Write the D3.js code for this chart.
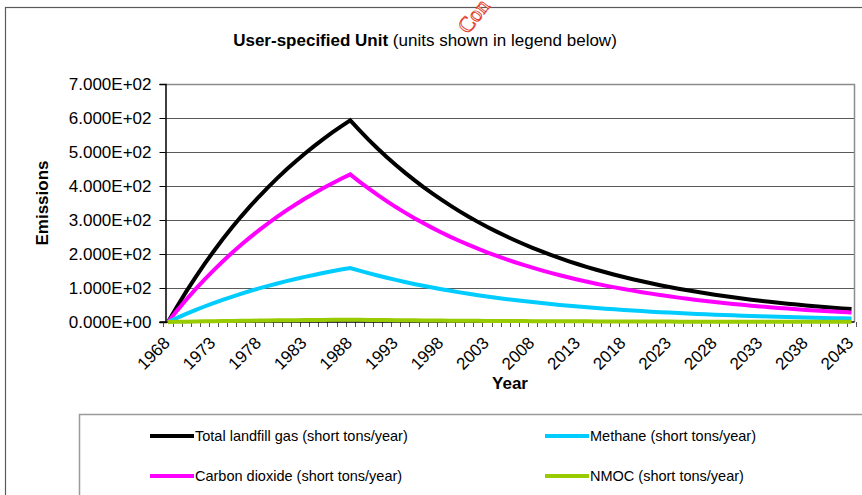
<!DOCTYPE html>
<html>
<head>
<meta charset="utf-8">
<script src="https://cdn.jsdelivr.net/npm/d3@7"></script>
<style>
  body { margin: 0; background: #fff; }
  svg { display: block; font-family: "Liberation Sans", Arial, sans-serif; }
</style>
</head>
<body>
<div id="chart"></div>
<script>
// Data (short tons/year)
var years = d3.range(1968, 2044);
var tickYears = [1968, 1973, 1978, 1983, 1988, 1993, 1998, 2003, 2008, 2013, 2018, 2023, 2028, 2033, 2038, 2043];
var yTicks = [0, 100, 200, 300, 400, 500, 600, 700];

var totalGas = [0, 45.8, 89.3, 130.7, 170.1, 207.5, 243.1, 277.0, 309.3, 339.9,
  369.1, 396.9, 423.3, 448.4, 472.3, 495.0, 516.6, 537.2, 556.7, 575.3,
  593.0, 564.1, 536.6, 510.4, 485.5, 461.8, 439.3, 417.9, 397.5, 378.1,
  359.7, 342.1, 325.5, 309.6, 294.5, 280.1, 266.5, 253.5, 241.1, 229.3,
  218.2, 207.5, 197.4, 187.8, 178.6, 169.9, 161.6, 153.7, 146.2, 139.1,
  132.3, 125.9, 119.7, 113.9, 108.3, 103.1, 98.0, 93.2, 88.7, 84.4,
  80.3, 76.3, 72.6, 69.1, 65.7, 62.5, 59.5, 56.6, 53.8, 51.2,
  48.7, 46.3, 44.0, 41.9, 39.9, 37.9];

var methane = [0, 12.3, 23.9, 35.0, 45.6, 55.6, 65.2, 74.2, 82.9, 91.1,
  98.9, 106.4, 113.4, 120.2, 126.6, 132.7, 138.4, 144.0, 149.2, 154.2,
  158.9, 151.2, 143.8, 136.8, 130.1, 123.8, 117.7, 112.0, 106.5, 101.3,
  96.4, 91.7, 87.2, 83.0, 78.9, 75.1, 71.4, 67.9, 64.6, 61.5,
  58.5, 55.6, 52.9, 50.3, 47.9, 45.5, 43.3, 41.2, 39.2, 37.3,
  35.5, 33.7, 32.1, 30.5, 29.0, 27.6, 26.3, 25.0, 23.8, 22.6,
  21.5, 20.4, 19.5, 18.5, 17.6, 16.8, 15.9, 15.2, 14.4, 13.7,
  13.1, 12.4, 11.8, 11.2, 10.7, 10.2];

var carbonDioxide = [0, 33.5, 65.4, 95.7, 124.5, 151.9, 178.0, 202.8, 226.4, 248.8,
  270.2, 290.5, 309.9, 328.2, 345.7, 362.3, 378.2, 393.2, 407.5, 421.1,
  434.1, 412.9, 392.8, 373.6, 355.4, 338.0, 321.6, 305.9, 291.0, 276.8,
  263.3, 250.4, 238.3, 226.6, 215.6, 205.0, 195.1, 185.6, 176.5, 167.8,
  159.7, 151.9, 144.5, 137.5, 130.7, 124.4, 118.3, 112.5, 107.0, 101.8,
  96.8, 92.2, 87.6, 83.4, 79.3, 75.5, 71.7, 68.2, 64.9, 61.8,
  58.8, 55.9, 53.1, 50.6, 48.1, 45.8, 43.6, 41.4, 39.4, 37.5,
  35.6, 33.9, 32.2, 30.7, 29.2, 27.7];

var nmoc = [0, 0.5, 1.0, 1.5, 2.0, 2.4, 2.8, 3.2, 3.6, 3.9,
  4.2, 4.6, 4.9, 5.2, 5.4, 5.7, 5.9, 6.2, 6.4, 6.6,
  6.8, 6.5, 6.2, 5.9, 5.6, 5.3, 5.1, 4.8, 4.6, 4.3,
  4.1, 3.9, 3.7, 3.6, 3.4, 3.2, 3.1, 2.9, 2.8, 2.6,
  2.5, 2.4, 2.3, 2.2, 2.1, 2.0, 1.9, 1.8, 1.7, 1.6,
  1.5, 1.4, 1.4, 1.3, 1.2, 1.2, 1.1, 1.1, 1.0, 1.0,
  0.9, 0.9, 0.8, 0.8, 0.7, 0.7, 0.7, 0.6, 0.6, 0.6,
  0.5, 0.5, 0.5, 0.5, 0.5, 0.4];

var seriesNames = ["Total landfill gas (short tons/year)", "Methane (short tons/year)",
  "Carbon dioxide (short tons/year)", "NMOC (short tons/year)"];
var seriesValues = [totalGas, methane, carbonDioxide, nmoc];
var seriesColors = ["#000000", "#00CCFF", "#FF00FF", "#99CC00"];
var drawOrder = [0, 2, 1, 3];

var chart = {
  width: 862,
  height: 495,
  plot: { left: 165.5, right: 854, top: 84, bottom: 322 },

  setup: function() {
    this.svg = d3.select("#chart").append("svg")
      .attr("width", this.width)
      .attr("height", this.height);

    // outer chart border (runs off the right/bottom of the picture)
    this.svg.append("rect")
      .attr("x", 5.5).attr("y", 7.5)
      .attr("width", 900).attr("height", 520)
      .attr("fill", "#fff")
      .attr("stroke", "#5a5a5a")
      .attr("stroke-width", 1.2);

    this.x = d3.scalePoint()
      .domain(years)
      .range([this.plot.left, this.plot.right])
      .padding(0.27);
    this.y = d3.scaleLinear()
      .domain([0, 700])
      .range([this.plot.bottom, this.plot.top]);
  },

  drawAxes: function() {
    var self = this, p = this.plot, svg = this.svg;

    // gridlines
    svg.append("g").selectAll("line")
      .data(yTicks.filter(d => d > 0 && d < 700))
      .enter().append("line")
      .attr("x1", p.left).attr("x2", p.right)
      .attr("y1", d => Math.round(self.y(d)) + 0.5)
      .attr("y2", d => Math.round(self.y(d)) + 0.5)
      .attr("stroke", "#5a5a5a").attr("stroke-width", 1);

    // plot area frame (top + right in grey)
    svg.append("path")
      .attr("d", "M" + p.left + "," + (p.top + 0.5) + "H" + (p.right + 0.5) + "V" + p.bottom)
      .attr("fill", "none").attr("stroke", "#8c8c8c").attr("stroke-width", 1.5);

    // y axis
    var yAxis = d3.axisLeft(this.y)
      .tickValues(yTicks)
      .tickSize(6)
      .tickFormat(d => d3.format(".3e")(d).replace(/e([+-])(\d)$/, "E$10$2").replace("e", "E"));
    var gy = svg.append("g")
      .attr("transform", "translate(" + p.left + ",0)")
      .call(yAxis);
    gy.select(".domain").attr("stroke", "#000").attr("stroke-width", 1.5);
    gy.selectAll(".tick line").attr("stroke", "#000");
    gy.selectAll(".tick text")
      .attr("x", -14)
      .style("font-size", "17px")
      .style("font-family", "Liberation Sans, Arial, sans-serif")
      .attr("fill", "#000");

    // x axis: minor ticks at category boundaries
    var step = this.x.step();
    var bounds = years.map(d => self.x(d) - step / 2).concat([self.x(2043) + step / 2]);
    svg.append("g").selectAll("line")
      .data(bounds)
      .enter().append("line")
      .attr("x1", d => Math.round(d) + 0.5).attr("x2", d => Math.round(d) + 0.5)
      .attr("y1", p.bottom).attr("y2", p.bottom + 5)
      .attr("stroke", "#555").attr("stroke-width", 1);

    svg.append("line")
      .attr("x1", p.left - 6).attr("x2", p.right + 0.5)
      .attr("y1", p.bottom).attr("y2", p.bottom)
      .attr("stroke", "#000").attr("stroke-width", 1.5);

    svg.append("g").selectAll("text")
      .data(tickYears)
      .enter().append("text")
      .attr("transform", d => "translate(" + (self.x(d) + 3) + "," + (p.bottom + 22) + ") rotate(-45)")
      .attr("text-anchor", "end")
      .style("font-size", "17px")
      .text(d => d);

    // axis titles
    svg.append("text")
      .attr("x", 510).attr("y", 389)
      .attr("text-anchor", "middle")
      .style("font-size", "17px").style("font-weight", "bold")
      .text("Year");

    svg.append("text")
      .attr("transform", "translate(48,203) rotate(-90)")
      .attr("text-anchor", "middle")
      .style("font-size", "17px").style("font-weight", "bold")
      .text("Emissions");

    // chart title
    var title = svg.append("text")
      .attr("x", 425).attr("y", 46)
      .attr("text-anchor", "middle")
      .style("font-size", "17px");
    title.append("tspan").style("font-weight", "bold").text("User-specified Unit");
    title.append("tspan").text(" (units shown in legend below)");
  },

  drawLines: function() {
    var self = this;
    var line = d3.line()
      .x((d, i) => self.x(years[i]))
      .y(d => self.y(d));

    this.svg.append("g").selectAll("path")
      .data(drawOrder)
      .enter().append("path")
      .attr("d", k => line(seriesValues[k]))
      .attr("fill", "none")
      .attr("stroke", k => seriesColors[k])
      .attr("stroke-width", 4)
      .attr("stroke-linejoin", "miter");
  },

  drawLegend: function() {
    var svg = this.svg;
    svg.append("rect")
      .attr("x", 79.5).attr("y", 414.5)
      .attr("width", 820).attr("height", 120)
      .attr("fill", "#fff")
      .attr("stroke", "#9a9a9a").attr("stroke-width", 1.5);

    var cols = [150, 545], rows = [436, 476];
    var items = svg.append("g").selectAll("g")
      .data(seriesNames)
      .enter().append("g")
      .attr("transform", (d, i) => "translate(" + cols[i % 2] + "," + rows[Math.floor(i / 2)] + ")");
    items.append("line")
      .attr("x1", 0).attr("x2", 44)
      .attr("stroke", (d, i) => seriesColors[i])
      .attr("stroke-width", 4);
    items.append("text")
      .attr("x", 45).attr("y", 5)
      .style("font-size", "14.5px")
      .text(d => d);
  },

  drawWatermark: function() {
    // only the visible part of the stamp ("Con") sits inside the picture
    this.svg.append("text")
      .attr("transform", "translate(468,35) rotate(-52)")
      .style("font-family", "Liberation Serif, DejaVu Serif, serif")
      .style("font-size", "22px")
      .attr("fill", "#fff")
      .attr("stroke", "#e0402a")
      .attr("stroke-width", 0.9)
      .text("Con");
  },

  init: function() {
    this.setup();
    this.drawAxes();
    this.drawLines();
    this.drawLegend();
    this.drawWatermark();
  }
};

chart.init();
</script>
</body>
</html>
